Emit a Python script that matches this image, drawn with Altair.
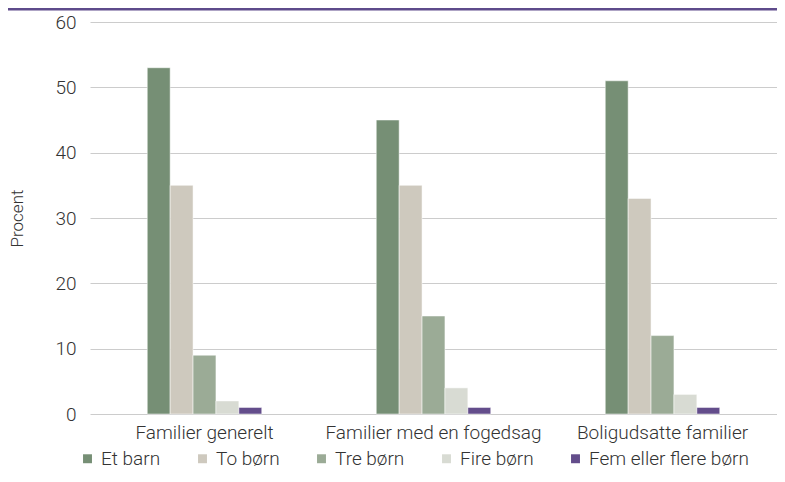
import altair as alt
import pandas as pd

categories = ["Familier generelt", "Familier med en fogedsag", "Boligudsatte familier"]
series = ["Et barn", "To børn", "Tre børn", "Fire børn", "Fem eller flere børn"]
values = {
    "Et barn": [53, 45, 51],
    "To børn": [35, 35, 33],
    "Tre børn": [9, 15, 12],
    "Fire børn": [2, 4, 3],
    "Fem eller flere børn": [1, 1, 1],
}
colors = ["#768f75", "#cec9be", "#9bab96", "#d8dbd3", "#634d8b"]

rows = []
for s in series:
    for c, v in zip(categories, values[s]):
        rows.append({"Kategori": c, "Serie": s, "Procent": v, "order": series.index(s)})
df = pd.DataFrame(rows)

FONT = "Roboto"
W, H = 687, 392
FS = 19

bars = alt.Chart(df).mark_bar(stroke="white", strokeWidth=0.5).encode(
    x=alt.X("Kategori:N", sort=categories, title=None,
            scale=alt.Scale(paddingInner=0.5, paddingOuter=0.25),
            axis=alt.Axis(labelAngle=0, domain=False, ticks=False, labelPadding=9,
                          labelFontSize=FS, labelFont=FONT, labelFontWeight=300,
                          labelColor="#333333", labelLimit=400, grid=False)),
    xOffset=alt.XOffset("Serie:N", sort=series, scale=alt.Scale(paddingInner=0, paddingOuter=0)),
    y=alt.Y("Procent:Q", title="Procent",
            scale=alt.Scale(domain=[0, 60], nice=False),
            axis=alt.Axis(values=[0, 10, 20, 30, 40, 50, 60], domain=False, ticks=False,
                          labelPadding=14, labelFontSize=FS, labelFont=FONT,
                          labelFontWeight=300, labelColor="#333333",
                          grid=True, gridColor="#cccccc", gridWidth=1,
                          titleFont=FONT, titleFontSize=17, titleFontWeight=300,
                          titleColor="#333333", titleX=-73, titleY=H / 2,
                          titleAngle=-90, titleBaseline="middle", titleAlign="center")),
    color=alt.Color("Serie:N", sort=series,
                    scale=alt.Scale(domain=series, range=colors),
                    legend=alt.Legend(title=None, orient="none", direction="horizontal",
                                      legendX=-12, legendY=427, symbolType="square",
                                      symbolSize=80, symbolStrokeWidth=0,
                                      labelFont=FONT, labelFontSize=FS,
                                      labelFontWeight=300, labelColor="#333333",
                                      labelOffset=4, columnPadding=32, labelLimit=300)),
    order=alt.Order("order:Q"),
)

topline = alt.Chart(pd.DataFrame({"a": [0]})).mark_rule(color="#5e4b8b", strokeWidth=3).encode(
    x=alt.value(-82), x2=alt.value(W + 10), y=alt.value(-13)
)

chart = alt.layer(topline, bars).properties(
    width=W, height=H,
    background="white",
    autosize=alt.AutoSizeParams(type="none"),
    padding={"left": 82, "top": 14, "right": 0, "bottom": 60},
).configure_view(stroke=None)

chart.save("out.html", embed_options={"renderer": "svg", "actions": False})
